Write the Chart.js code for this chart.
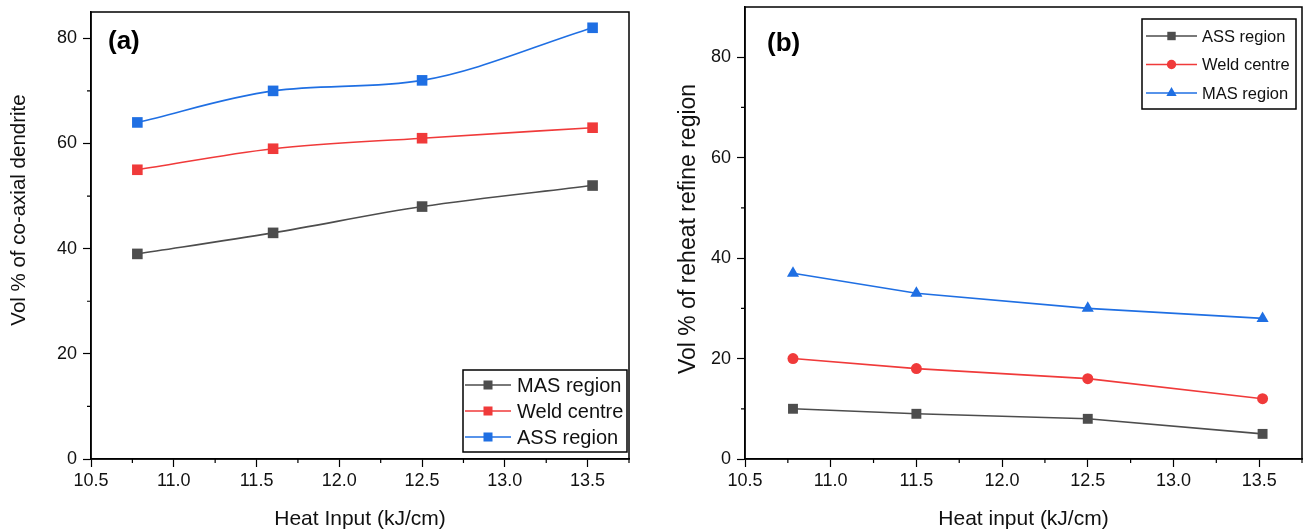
<!DOCTYPE html>
<html>
<head>
<meta charset="utf-8">
<script src="https://cdn.jsdelivr.net/npm/chart.js@4.4.1/dist/chart.umd.min.js"></script>
<style>
  body { margin: 0; background: #fff; width: 1309px; height: 532px; overflow: hidden; position: relative; }
  .panel { position: absolute; top: 0; height: 532px; }
  #panelA { left: 0; width: 655px; }
  #panelB { left: 655px; width: 654px; }
</style>
</head>
<body>
<div class="panel" id="panelA"><canvas id="chartA"></canvas></div>
<div class="panel" id="panelB"><canvas id="chartB"></canvas></div>
<script>
// (a) co-axial dendrite
const heatInputA = [10.78, 11.6, 12.5, 13.53];
const masDendrite = [39, 43, 48, 52];
const weldDendrite = [55, 59, 61, 63];
const assDendrite = [64, 70, 72, 82];

// (b) reheat refine region
const heatInputB = [10.78, 11.5, 12.5, 13.52];
const assReheat = [10, 9, 8, 5];
const weldReheat = [20, 18, 16, 12];
const masReheat = [37, 33, 30, 28];

// axis ticks
const xMajorTicks = [10.5, 11.0, 11.5, 12.0, 12.5, 13.0, 13.5];
const xMinorTicks = [10.75, 11.25, 11.75, 12.25, 12.75, 13.25, 13.75];
const yMajorTicks = [0, 20, 40, 60, 80];
const yMinorTicks = [10, 30, 50, 70];

const FONT = '"Liberation Sans", Arial, sans-serif';
const GRAY = '#4d4d4d';
const RED = '#f03a3a';
const BLUE = '#1f6fe3';

function points(xs, ys) {
    return xs.map((x, i) => ({ x: x, y: ys[i] }));
}

// box round the plot, panel letter, y title, minor ticks and legend with line + marker
const framePlugin = {
    id: 'frame',
    afterDraw(chart, args, opts) {
        const ctx = chart.ctx;
        const a = chart.chartArea;
        ctx.save();
        ctx.strokeStyle = '#000';
        ctx.lineWidth = 1.5;
        ctx.strokeRect(a.left, a.top, a.width, a.height);

        // minor ticks
        ctx.lineWidth = 1.2;
        ctx.beginPath();
        xMinorTicks.forEach(v => {
            const px = chart.scales.x.getPixelForValue(v);
            ctx.moveTo(px, a.bottom);
            ctx.lineTo(px, a.bottom + 4);
        });
        yMinorTicks.forEach(v => {
            const py = chart.scales.y.getPixelForValue(v);
            ctx.moveTo(a.left, py);
            ctx.lineTo(a.left - 4, py);
        });
        ctx.stroke();

        // panel letter
        ctx.fillStyle = '#000';
        ctx.font = 'bold 26px ' + FONT;
        ctx.textBaseline = 'middle';
        ctx.fillText(opts.letter, a.left + opts.letterX, a.top + opts.letterY);

        // y axis title
        const yt = opts.yTitle;
        ctx.save();
        ctx.translate(yt.x, yt.y);
        ctx.rotate(-Math.PI / 2);
        ctx.textAlign = 'center';
        ctx.textBaseline = 'middle';
        ctx.fillStyle = '#111';
        ctx.font = yt.size + 'px ' + FONT;
        ctx.fillText(yt.text, 0, 0);
        ctx.restore();

        // legend
        const lg = opts.legend;
        const bx = a.right - lg.right - lg.width;
        const by = lg.top != null ? a.top + lg.top : a.bottom - lg.bottom - lg.height;
        ctx.lineWidth = 1.5;
        ctx.strokeStyle = '#000';
        ctx.strokeRect(bx, by, lg.width, lg.height);
        ctx.font = lg.font + 'px ' + FONT;
        chart.data.datasets.forEach((ds, i) => {
            const y = by + lg.firstRow + i * lg.rowGap;
            const x0 = bx + lg.lineStart;
            ctx.strokeStyle = ds.borderColor;
            ctx.lineWidth = 1.5;
            ctx.beginPath();
            ctx.moveTo(x0, y);
            ctx.lineTo(x0 + lg.lineLen, y);
            ctx.stroke();
            ctx.fillStyle = ds.pointBackgroundColor;
            ctx.strokeStyle = ds.pointBackgroundColor;
            Chart.helpers.drawPoint(ctx, { pointStyle: ds.pointStyle, radius: ds.pointRadius * 0.85, rotation: 0, borderWidth: 0 }, x0 + lg.lineLen / 2, y);
            ctx.fillStyle = '#111';
            ctx.fillText(ds.label, x0 + lg.lineLen + lg.textGap, y + 1);
        });
        ctx.restore();
    }
};

function makeOptions(cfg) {
    return {
        responsive: true,
        maintainAspectRatio: false,
        animation: false,
        layout: { padding: { top: cfg.padTop, right: cfg.padRight, left: 0, bottom: 0 } },
        plugins: {
            legend: { display: false },
            tooltip: { enabled: false },
            frame: cfg.frame,
        },
        scales: {
            x: {
                type: 'linear',
                min: 10.5,
                max: 13.75,
                afterBuildTicks: scale => { scale.ticks = xMajorTicks.map(v => ({ value: v })); },
                afterFit: scale => {
                    scale.height = cfg.xHeight;
                    scale.paddingLeft = 0;
                    scale.paddingRight = 0;
                },
                ticks: {
                    autoSkip: false,
                    maxRotation: 0,
                    padding: 3,
                    color: '#111',
                    font: { family: FONT, size: 18 },
                    callback: v => v.toFixed(1),
                },
                grid: { drawOnChartArea: false, drawTicks: true, tickLength: 8, tickColor: '#000', tickWidth: 1.2 },
                border: { display: true, color: '#000', width: 1.5 },
                title: { display: true, text: cfg.xTitle, color: '#111', font: { family: FONT, size: 21 }, padding: { top: 0, bottom: 0 } },
            },
            y: {
                min: 0,
                max: cfg.yMax,
                afterBuildTicks: scale => { scale.ticks = yMajorTicks.map(v => ({ value: v })); },
                afterFit: scale => {
                    scale.width = cfg.yWidth;
                    scale.paddingTop = 0;
                    scale.paddingBottom = 0;
                },
                ticks: {
                    padding: 6,
                    color: '#111',
                    font: { family: FONT, size: 18 },
                },
                grid: { drawOnChartArea: false, drawTicks: true, tickLength: 8, tickColor: '#000', tickWidth: 1.2 },
                border: { display: true, color: '#000', width: 1.5 },
            },
        },
    };
}

function series(label, xs, ys, color, style, radius, tension) {
    return {
        label: label,
        data: points(xs, ys),
        borderColor: color,
        backgroundColor: color,
        pointBackgroundColor: color,
        pointBorderColor: color,
        pointStyle: style,
        pointRadius: radius,
        pointBorderWidth: 0,
        borderWidth: 1.6,
        tension: tension,
        cubicInterpolationMode: tension > 0 ? 'monotone' : 'default',
    };
}

function initCharts() {
    createChart('chartA', {
        type: 'line',
        data: {
            datasets: [
                series('MAS region', heatInputA, masDendrite, GRAY, 'rect', 7.5, 0.4),
                series('Weld centre', heatInputA, weldDendrite, RED, 'rect', 7.5, 0.4),
                series('ASS region', heatInputA, assDendrite, BLUE, 'rect', 7.5, 0.4),
            ],
        },
        options: makeOptions({
            padTop: 12, padRight: 26, yWidth: 91, xHeight: 73, yMax: 85,
            xTitle: 'Heat Input (kJ/cm)',
            frame: {
                letter: '(a)', letterX: 17, letterY: 30,
                yTitle: { text: 'Vol % of co-axial dendrite', size: 20.5, x: 19, y: 210 },
                legend: { right: 2, bottom: 7, width: 164, height: 82, firstRow: 15, rowGap: 26, lineStart: 2, lineLen: 46, textGap: 6, font: 20 },
            },
        }),
    });

    createChart('chartB', {
        type: 'line',
        data: {
            datasets: [
                series('ASS region', heatInputB, assReheat, GRAY, 'rect', 7, 0),
                series('Weld centre', heatInputB, weldReheat, RED, 'circle', 5.5, 0),
                series('MAS region', heatInputB, masReheat, BLUE, 'triangle', 7, 0),
            ],
        },
        options: makeOptions({
            padTop: 7, padRight: 5, yWidth: 90, xHeight: 73, yMax: 90,
            xTitle: 'Heat input (kJ/cm)',
            frame: {
                letter: '(b)', letterX: 22, letterY: 37,
                yTitle: { text: 'Vol % of reheat refine region', size: 23, x: 34, y: 229 },
                legend: { right: 6, top: 12, width: 154, height: 90, firstRow: 17, rowGap: 28.5, lineStart: 4, lineLen: 51, textGap: 5, font: 16.5 },
            },
        }),
    });
}

function createChart(id, config) {
    const ctx = document.getElementById(id);
    if (!ctx) {
        console.error(`Canvas element with id '${id}' not found`);
        return;
    }
    config.plugins = [framePlugin];
    ctx.chart = new Chart(ctx, config);
}

initCharts();
</script>
</body>
</html>
